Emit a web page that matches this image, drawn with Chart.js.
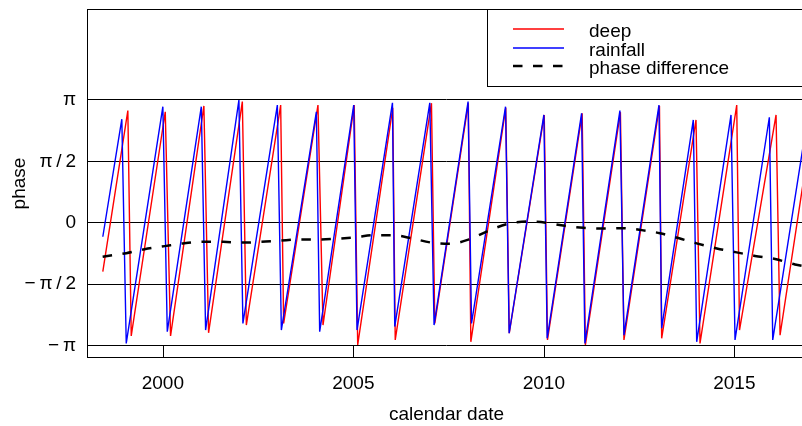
<!DOCTYPE html>
<html>
<head>
<meta charset="utf-8">
<title>phase</title>
<script src="https://cdn.jsdelivr.net/npm/chart.js@4.4.1/dist/chart.umd.min.js"></script>
<style>
  html, body { margin: 0; padding: 0; background: #fff; overflow: hidden; }
  #wrap { position: relative; width: 810px; height: 426px; }
</style>
</head>
<body>
<div id="wrap"><canvas id="phaseChart"></canvas></div>
<script>
// rainfall phase: trough and peak of each annual cycle (decimal year, radians)
const rainfallDate = [1998.424, 1998.923, 1999.039, 2000.000, 2000.116, 2001.009, 2001.122, 2001.996, 2002.101,
  2003.005, 2003.110, 2004.029, 2004.116, 2005.009, 2005.096, 2006.026, 2006.086, 2007.006, 2007.118,
  2008.011, 2008.101, 2008.994, 2009.089, 2010.000, 2010.087, 2010.990, 2011.077, 2011.996, 2012.102,
  2013.021, 2013.092, 2013.922, 2014.011, 2014.912, 2015.017, 2015.918, 2016.007, 2016.85];
const rainfallPhase = [-0.36, 2.65, -3.09, 2.97, -2.79, 2.97, -2.75, 3.14, -2.58,
  3.01, -2.75, 2.84, -2.79, 3.01, -2.75, 3.07, -2.66, 3.07, -2.62,
  3.10, -2.58, 2.97, -2.83, 2.76, -2.96, 2.80, -3.09, 2.87, -2.88,
  3.01, -2.70, 2.63, -3.05, 2.76, -3.00, 2.70, -3.00, 2.24];

// deep groundwater phase
const deepDate = [1998.424, 1999.081, 1999.170, 2000.063, 2000.202, 2001.077, 2001.200, 2002.086, 2002.191,
  2003.092, 2003.170, 2004.071, 2004.203, 2005.022, 2005.114, 2006.034, 2006.099, 2007.050, 2007.137,
  2008.017, 2008.083, 2009.000, 2009.092, 2010.010, 2010.095, 2011.005, 2011.090, 2012.009, 2012.102,
  2013.034, 2013.092, 2013.993, 2014.098, 2015.062, 2015.135, 2016.094, 2016.199, 2016.85];
const deepPhase = [-1.25, 2.87, -2.90, 2.84, -2.90, 2.99, -2.82, 3.10, -2.62,
  3.01, -2.58, 3.01, -2.62, 3.01, -3.13, 2.94, -3.00, 3.06, -2.58,
  3.06, -3.05, 2.94, -2.83, 2.76, -3.00, 2.80, -3.13, 2.83, -3.00,
  2.99, -2.96, 2.63, -3.09, 3.01, -2.75, 2.76, -2.88, 1.31];

// phase difference deep - rainfall
const diffDate = [1998.42, 1999.04, 1999.52, 2000.05, 2000.53, 2001.05, 2001.58, 2002.06, 2002.59, 2003.07,
  2003.59, 2004.07, 2004.56, 2005.08, 2005.52, 2006.04, 2006.53, 2007.05, 2007.53, 2008.03,
  2008.54, 2009.02, 2009.55, 2010.05, 2010.55, 2011.03, 2011.58, 2012.04, 2012.57, 2013.05,
  2013.55, 2014.01, 2014.54, 2015.06, 2015.54, 2016.07, 2016.59, 2016.85];
const diffPhase = [-0.87, -0.78, -0.68, -0.60, -0.53, -0.49, -0.49, -0.51, -0.49, -0.46,
  -0.43, -0.43, -0.41, -0.37, -0.32, -0.32, -0.40, -0.51, -0.54, -0.43,
  -0.21, -0.04, 0.03, 0.00, -0.08, -0.13, -0.15, -0.14, -0.19, -0.27,
  -0.40, -0.53, -0.66, -0.76, -0.85, -0.93, -1.07, -1.12];

const xTickValues = [2000, 2005, 2010, 2015];
const yTickValues = [-Math.PI, -Math.PI / 2, 0, Math.PI / 2, Math.PI];
const yTickLabels = ["\u2212\u2009\u03c0", "\u2212\u2009\u03c0\u2009/\u20092", "0", "\u03c0\u2009/\u20092", "\u03c0"];

const seriesLabels = ["deep", "rainfall", "phase difference"];
const seriesColors = ["#ff0000", "#0000ff", "#000000"];

const FONT = "'Liberation Sans', Arial, sans-serif";
Chart.defaults.font.family = FONT;
Chart.defaults.font.size = 19;
Chart.defaults.color = "#000";

function toPoints(xs, ys) {
  return xs.map((x, i) => ({ x: x, y: ys[i] }));
}

// box round the plot, inward x ticks and the legend in the top right corner
const framePlugin = {
  id: "frame",
  afterDatasetsDraw(chart) {
    const ctx = chart.ctx;
    const a = chart.chartArea;
    const xs = chart.scales.x, ys = chart.scales.y;
    ctx.save();
    ctx.strokeStyle = "#000";
    ctx.lineWidth = 1;
    ctx.setLineDash([]);

    const yLow = Math.round(ys.getPixelForValue(-Math.PI)) + 0.5;
    xTickValues.forEach(function (v) {
      const x = Math.round(xs.getPixelForValue(v)) + 0.5;
      ctx.beginPath();
      ctx.moveTo(x, yLow);
      ctx.lineTo(x, a.bottom);
      ctx.stroke();
    });
    ctx.strokeRect(Math.round(a.left) + 0.5, Math.round(a.top) + 0.5,
      Math.round(a.right - a.left), Math.round(a.bottom - a.top) - 1);

    // legend
    const lx = 487.5, ly = Math.round(a.top) + 0.5;
    ctx.fillStyle = "#fff";
    ctx.fillRect(lx, ly, a.right - lx, 77);
    ctx.strokeRect(lx, ly, a.right - lx, 77);
    ctx.font = "19px " + FONT;
    ctx.textBaseline = "alphabetic";
    ctx.textAlign = "left";
    seriesLabels.forEach(function (label, i) {
      const ds = chart.data.datasets[i];
      const rowY = Math.round(29 + i * 18.7);
      ctx.strokeStyle = seriesColors[i];
      ctx.lineWidth = ds.borderWidth;
      ctx.setLineDash(ds.borderDash || []);
      ctx.beginPath();
      ctx.moveTo(513, rowY);
      ctx.lineTo(564, rowY);
      ctx.stroke();
      ctx.fillStyle = "#000";
      ctx.fillText(label, 589, rowY + 8);
    });
    ctx.restore();
  }
};

new Chart(document.getElementById("phaseChart"), {
  type: "line",
  data: {
    datasets: [
      {
        label: seriesLabels[0],
        data: toPoints(deepDate, deepPhase),
        borderColor: seriesColors[0],
        borderWidth: 1.4,
        order: 2
      },
      {
        label: seriesLabels[1],
        data: toPoints(rainfallDate, rainfallPhase),
        borderColor: seriesColors[1],
        borderWidth: 1.4,
        order: 1
      },
      {
        label: seriesLabels[2],
        data: toPoints(diffDate, diffPhase),
        borderColor: seriesColors[2],
        borderWidth: 2.5,
        borderDash: [9.5, 10.5],
        cubicInterpolationMode: "monotone",
        order: 0
      }
    ]
  },
  options: {
    responsive: true,
    maintainAspectRatio: false,
    devicePixelRatio: 1,
    animation: false,
    layout: { padding: { top: 9, right: 4, left: 0, bottom: 0 } },
    elements: { point: { radius: 0 }, line: { tension: 0 } },
    plugins: { legend: { display: false }, tooltip: { enabled: false } },
    scales: {
      x: {
        type: "linear",
        min: 1998.009,
        max: 2016.88,
        afterFit: function (s) {
          s.height = 68;
          s.paddingLeft = 0;
          s.paddingRight = 0;
        },
        afterBuildTicks: function (s) { s.ticks = xTickValues.map(v => ({ value: v })); },
        grid: { display: false },
        border: { display: false },
        ticks: { padding: 6, maxRotation: 0, callback: v => String(v) },
        title: { display: true, text: "calendar date", padding: { top: 0, bottom: 0 } }
      },
      y: {
        min: -3.464,
        max: 5.471,
        afterFit: function (s) {
          s.width = 87;
          s.paddingTop = 0;
          s.paddingBottom = 0;
        },
        afterBuildTicks: function (s) { s.ticks = yTickValues.map(v => ({ value: v })); },
        grid: { color: "#000", lineWidth: 1, drawTicks: false },
        border: { display: false },
        ticks: {
          padding: 11,
          callback: function (v, i) { return yTickLabels[i]; }
        },
        title: { display: true, text: "phase", padding: { top: 8, bottom: 0 } }
      }
    }
  },
  plugins: [framePlugin]
});
</script>
</body>
</html>
